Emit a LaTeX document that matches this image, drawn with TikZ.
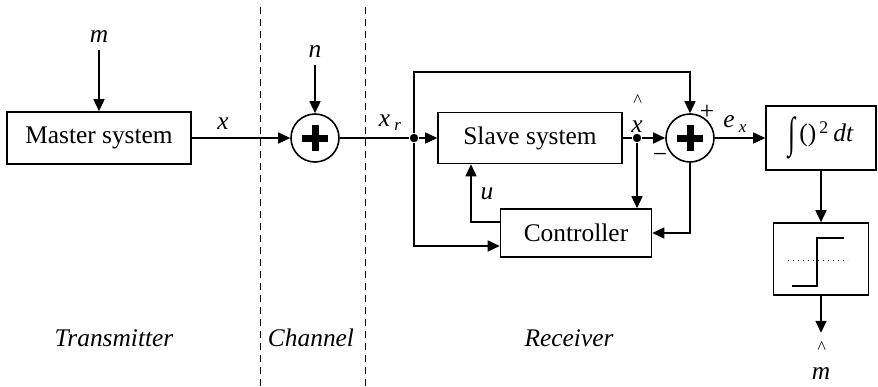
\documentclass[tikz,border=0pt]{standalone}
\usepackage{fontspec}
\setmainfont{Liberation Serif}
\newfontfamily\timesfont{Liberation Serif}
\usetikzlibrary{arrows.meta}
\usetikzlibrary{positioning,calc}
\tikzset{
    block/.style={
        draw,
        rectangle,
        fill=white,
        inner sep=0pt,
        font=\timesfont\fontsize{12.7}{15}\selectfont
    },
    sum/.style={
        draw,
        circle,
        minimum size=24pt,
        inner sep=0pt,
        path picture={
            \draw[line width=3.5pt] ($(path picture bounding box.center)+(-6.5pt,0)$) -- ++(13pt,0);
            \draw[line width=3.5pt] ($(path picture bounding box.center)+(0,-6.5pt)$) -- ++(0,13pt);
        }
    },
    junction/.style={circle, fill, inner sep=0pt, minimum size=4.2pt},
    signal/.style={font=\timesfont\fontsize{12.7}{15}\selectfont\itshape},
    divider/.style={line width=0.5pt, dash pattern=on 3.5pt off 2.5pt}
}
\newcommand{\sub}[1]{\,\raisebox{-0.35ex}{\fontsize{8.5}{9}\selectfont\itshape #1}}
\newcommand{\hatlbl}[1]{{\fontsize{9}{9}\selectfont\textasciicircum}\\[-2pt]\textit{#1}}

\begin{document}
\begin{tikzpicture}[
      x = 0.5pt, y = -0.5pt,
      > = {Triangle[length=6pt, width=5.5pt]},
      line width = 0.8pt
  ]
  \useasboundingbox (0,0) rectangle (878,386);

  % Define the blocks
  \node[block, minimum width=92pt, minimum height=26pt] (master) at (99,138) {Master system};
  \node[sum] (sum1) at (315,138) {};
  \node[block, minimum width=92pt, minimum height=25.5pt] (slave) at (530,138) {Slave system};
  \node[sum] (sum2) at (690,138) {};
  \node[block, minimum width=75.5pt, minimum height=24pt] (ctrl) at (576,233) {Controller};
  \node[block, minimum width=55pt, minimum height=32pt] (integ) at (821,138)
      {\raisebox{-0.5ex}{\scalebox{1}[1.7]{∫}}\,()\textsuperscript{\,2}\,\textit{dt}};
  \node[block, minimum width=47.5pt, minimum height=36pt] (step) at (821,259) {};

  % Branch points
  \node[junction] (j1) at (414,138) {};
  \node[junction] (j2) at (637,138) {};
  \coordinate (top) at (690,72);

  % Signal labels
  \node[signal] (m) at (99,37) {m};
  \node[signal] (n) at (315,52) {n};
  \node[signal] at (223,124) {x};
  \node[signal] at (390,123) {x\sub{r}};
  \node[signal, align=center, inner sep=0pt] at (637,114) {\hatlbl{x}};
  \node[signal] at (487,194) {u};
  \node[signal] at (735,124) {e\sub{x}};
  \node[signal, font=\timesfont\fontsize{12.7}{15}\selectfont] at (707,112) {+};
  \node[signal, font=\timesfont\fontsize{12.7}{15}\selectfont] at (660,158) {−};
  \node[signal, align=center, inner sep=0pt, anchor=north] (mhat) at (821,341) {\hatlbl{m}};

  % Section names
  \node[signal] at (114,338) {Transmitter};
  \node[signal] at (311,338) {Channel};
  \node[signal] at (569,338) {Receiver};

  % Transmitter and channel
  \draw[->] (m) -- (master.north);
  \draw[->] (master.east) -- (sum1.west);
  \draw[->] (n) -- (sum1.north);
  \draw (sum1.east) -- (j1);

  % Receiver
  \draw[->] (j1) -- (slave.west);
  \draw (slave.east) -- (j2);
  \draw[->] (j2) -- (sum2.west);
  \draw[->] (j1) |- (top) -- (sum2.north);
  \draw[->] (j1) |- ([yshift=-6.5pt]ctrl.west);
  \draw[->] (j2) -- (j2 |- ctrl.north);
  \draw[->] (sum2.south) |- (ctrl.east);
  \draw[->] ([yshift=5.5pt]ctrl.west) -| ([xshift=-29.5pt]slave.south);
  \draw[->] (sum2.east) -- (integ.west);
  \draw[->] (integ.south) -- (step.north);
  \draw[->] (step.south) -- ++(0,37);

  % Threshold inside the decision block
  \draw (792,286) -- (817,286) -- (817,238) -- (844,238);
  \draw[line width=0.5pt, dotted] (788,260) -- (848,260);

  % Boundaries between the parts
  \foreach \xx in {260,365}
    \draw[divider] (\xx,7) -- (\xx,386);
\end{tikzpicture}
\end{document}
